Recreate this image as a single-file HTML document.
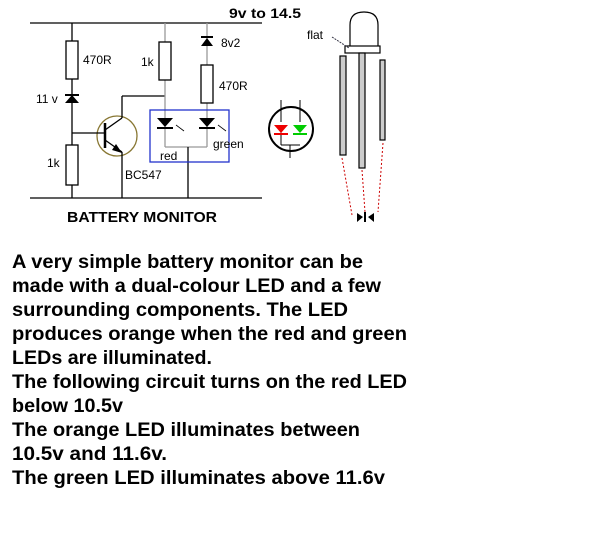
<!DOCTYPE html>
<html><head><meta charset="utf-8"><style>
html,body{margin:0;padding:0;background:#fff;width:614px;height:537px;overflow:hidden}
svg{display:block}
</style></head><body>
<svg width="614" height="537" viewBox="0 0 614 537" xmlns="http://www.w3.org/2000/svg" font-family="Liberation Sans, Arial, sans-serif">
<g stroke="#000" stroke-width="1.3" fill="none">
<line x1="30" y1="23" x2="262" y2="23"/>
<line x1="30" y1="198" x2="262" y2="198"/>
<line x1="72" y1="23" x2="72" y2="198"/>
<rect x="66" y="41" width="12" height="38" fill="#fff"/>
<rect x="66" y="145" width="12" height="40" fill="#fff"/>
<circle cx="117" cy="136" r="20" stroke="#887733" fill="#fff"/>
<line x1="105" y1="123" x2="105" y2="148" stroke-width="2.5"/>
<line x1="72" y1="133" x2="105" y2="133"/>
<line x1="105" y1="130" x2="122" y2="118"/>
<line x1="122" y1="118" x2="122" y2="96"/>
<line x1="122" y1="96" x2="165" y2="96"/>
<line x1="105" y1="140" x2="122" y2="152"/>
<line x1="122" y1="152" x2="122" y2="198"/>
<line x1="165" y1="23" x2="165" y2="147" stroke="#999"/>
<rect x="159" y="42" width="12" height="38" fill="#fff"/>
<line x1="207" y1="23" x2="207" y2="147" stroke="#999"/>
<rect x="201" y="65" width="12" height="38" fill="#fff"/>
<line x1="165" y1="147" x2="207" y2="147" stroke="#999"/>
<line x1="188" y1="147" x2="188" y2="198"/>
<rect x="150" y="110" width="79" height="52" stroke="#2233cc"/>
</g>
<g fill="#000">
<polygon points="65,103 79,103 72,95"/><rect x="65" y="94" width="14" height="2"/>
<polygon points="201,46 213,46 207,38"/><rect x="201" y="36" width="12" height="2"/>
<polygon points="157,118 173,118 165,127"/><rect x="157" y="127" width="16" height="2"/>
<polygon points="199,118 215,118 207,127"/><rect x="199" y="127" width="16" height="2"/>
<polygon points="112,150 122,153 116,144"/>
</g>
<g stroke="#000" stroke-width="0.8"><line x1="176" y1="125" x2="184" y2="131"/><line x1="218" y1="125" x2="226" y2="131"/></g>
<g font-size="12" fill="#000">
<text x="83" y="64">470R</text>
<text x="36" y="103">11 v</text>
<text x="47" y="167">1k</text>
<text x="141" y="66">1k</text>
<text x="221" y="47">8v2</text>
<text x="219" y="90">470R</text>
<text x="213" y="148">green</text>
<text x="160" y="160">red</text>
<text x="125" y="179">BC547</text>
</g>
<text x="229" y="18" font-size="14" font-weight="bold" textLength="72" lengthAdjust="spacingAndGlyphs">9v to 14.5</text>
<text x="67" y="222" font-size="15" font-weight="bold" textLength="150" lengthAdjust="spacingAndGlyphs">BATTERY MONITOR</text>
<g stroke="#000" stroke-width="2" fill="none"><circle cx="291" cy="129" r="22"/></g>
<g stroke="#000" stroke-width="1"><line x1="281" y1="100" x2="281" y2="122"/><line x1="300" y1="100" x2="300" y2="122"/><line x1="281" y1="145" x2="300" y2="145"/><line x1="281" y1="130" x2="281" y2="145"/><line x1="290" y1="145" x2="290" y2="158"/></g>
<polygon points="274,125 288,125 281,133" fill="#e00"/><rect x="274" y="133" width="14" height="2" fill="#e00"/>
<polygon points="293,125 307,125 300,133" fill="#0c0"/><rect x="293" y="133" width="14" height="2" fill="#0c0"/>
<g stroke="#000" stroke-width="1.2" fill="#fff">
<path d="M350,47 L350,25 Q350,12 364,12 Q378,12 378,25 L378,47 Z"/>
<rect x="345" y="46" width="35" height="7"/>
<rect x="340" y="56" width="6" height="99" fill="#ccc"/>
<rect x="359" y="53" width="6" height="115" fill="#ccc"/>
<rect x="380" y="60" width="5" height="80" fill="#ccc"/>
</g>
<line x1="332" y1="37" x2="349" y2="48" stroke="#334" stroke-dasharray="2,1"/>
<text x="307" y="39" font-size="12">flat</text>
<g stroke="#c00" stroke-dasharray="2,2" stroke-width="1"><line x1="342" y1="158" x2="352" y2="215"/><line x1="362" y1="170" x2="365" y2="212"/><line x1="383" y1="143" x2="378" y2="212"/></g>
<polygon points="357,213 357,222 363,217" fill="#000"/><rect x="364" y="212" width="2" height="10"/><polygon points="374,213 374,222 368,217" fill="#000"/>
<g font-size="19" font-weight="bold" fill="#000" lengthAdjust="spacingAndGlyphs">
<text x="12" y="268" textLength="351" lengthAdjust="spacingAndGlyphs">A very simple battery monitor can be</text>
<text x="12" y="292" textLength="369" lengthAdjust="spacingAndGlyphs">made with a dual-colour LED and a few</text>
<text x="12" y="316" textLength="336" lengthAdjust="spacingAndGlyphs">surrounding components. The LED</text>
<text x="12" y="340" textLength="395" lengthAdjust="spacingAndGlyphs">produces orange when the red and green</text>
<text x="12" y="364" textLength="200" lengthAdjust="spacingAndGlyphs">LEDs are illuminated.</text>
<text x="12" y="388" textLength="395" lengthAdjust="spacingAndGlyphs">The following circuit turns on the red LED</text>
<text x="12" y="412" textLength="111" lengthAdjust="spacingAndGlyphs">below 10.5v</text>
<text x="12" y="436" textLength="348" lengthAdjust="spacingAndGlyphs">The orange LED illuminates between</text>
<text x="12" y="460" textLength="155" lengthAdjust="spacingAndGlyphs">10.5v and 11.6v.</text>
<text x="12" y="484" textLength="373" lengthAdjust="spacingAndGlyphs">The green LED illuminates above 11.6v</text>
</g>
</svg>
</body></html>
